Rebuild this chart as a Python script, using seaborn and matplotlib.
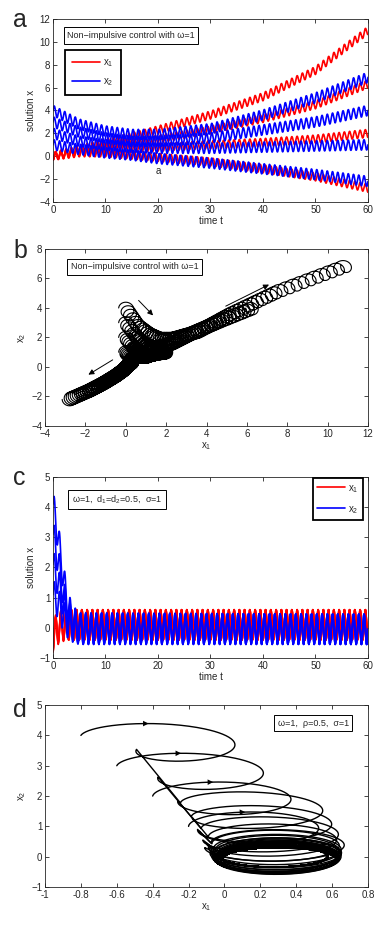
import numpy as np
import matplotlib
matplotlib.use("Agg")
import matplotlib.pyplot as plt
from matplotlib.lines import Line2D
import seaborn as sns

sns.set_style("ticks")
plt.rcParams["font.family"] = ["Liberation Sans", "DejaVu Sans"]
plt.rcParams["axes.linewidth"] = 0.6

# ---- panel a / b : non-impulsive control, omega = 1 ----
# centre of each trajectory at these times
t_key_a = [0, 5, 10, 15, 20, 30, 40, 50, 60]
a_x1_centres = [
    [0.0, 0.6, 1.2, 1.7, 2.3, 3.6, 5.2, 7.5, 11.0],
    [0.0, 0.5, 0.9, 1.2, 1.5, 2.3, 3.3, 4.5, 6.3],
    [0.0, 0.4, 0.6, 0.7, 0.8, 1.0, 1.2, 1.5, 2.0],
    [0.0, 0.3, 0.3, 0.1, -0.1, -0.5, -1.1, -1.8, -2.8],
]
a_x2_centres = [
    [4.0, 2.8, 2.2, 1.9, 1.9, 2.4, 3.6, 5.1, 6.9],
    [3.0, 2.1, 1.6, 1.3, 1.3, 1.6, 2.3, 3.0, 4.0],
    [2.0, 1.3, 1.0, 0.8, 0.7, 0.7, 0.8, 0.9, 1.0],
    [1.0, 0.6, 0.3, 0.1, -0.2, -0.6, -1.1, -1.6, -2.2],
]
a_amp_x1 = 0.35
a_amp_x2 = 0.45
period = 1.0

# ---- panel c : controlled, omega=1, d1=d2=0.5, sigma=1 ----
t_key_c = [0, 1, 2, 3, 4, 5, 60]
c_x1_centres = [
    [-0.3, 0.0, 0.1, 0.1, 0.1, 0.1, 0.1],
    [-0.2, 0.05, 0.1, 0.1, 0.1, 0.1, 0.1],
    [-0.25, 0.0, 0.08, 0.1, 0.1, 0.1, 0.1],
    [-0.3, -0.05, 0.05, 0.1, 0.1, 0.1, 0.1],
]
c_x2_centres = [
    [4.1, 3.0, 1.6, 0.6, 0.2, 0.0, -0.05],
    [3.1, 2.2, 1.1, 0.4, 0.1, -0.02, -0.05],
    [2.1, 1.5, 0.8, 0.3, 0.05, -0.05, -0.05],
    [1.1, 0.8, 0.4, 0.1, 0.0, -0.05, -0.05],
]
c_amp_x1 = 0.5
c_amp_x2 = 0.5

# ---- panel d : impulsive control, omega=1, rho=0.5, sigma=1 ----
rho = 0.5
d_start_x1 = [-0.8, -0.6, -0.4, -0.2]
d_start_x2 = [4.0, 3.0, 2.0, 1.0]
# loop centre at the end of the first loops (an impulse follows each loop)
d_end_x1 = [
    [-0.14, 0.20, 0.26, 0.28, 0.28],
    [-0.02, 0.24, 0.27, 0.29, 0.30],
    [0.09, 0.26, 0.28, 0.28, 0.27],
    [0.20, 0.27, 0.28, 0.29, 0.29],
]
d_end_x2 = [
    [3.54, 1.30, 0.45, 0.15, 0.00],
    [2.63, 0.85, 0.30, 0.05, -0.10],
    [1.85, 0.55, 0.20, 0.05, 0.00],
    [0.90, 0.30, 0.10, -0.05, -0.10],
]
d_r1 = [0.35, 0.38, 0.36, 0.35, 0.34]
d_r2 = [0.50, 0.48, 0.48, 0.50, 0.50]
# the limit cycle every trajectory settles on
d_lim_x1 = [0.28, 0.30, 0.27, 0.29]
d_lim_x2 = [-0.05, -0.15, 0.02, -0.10]
d_lim_r1 = [0.34, 0.32, 0.30, 0.33]
d_lim_r2 = [0.50, 0.40, 0.36, 0.45]
d_n_loops = 40

t = np.linspace(0, 60, 6001)
ph = 2 * np.pi * t / period


def style_axes(ax, xlim, ylim, xticks, yticks):
    ax.set_xlim(xlim)
    ax.set_ylim(ylim)
    ax.set_xticks(xticks)
    ax.set_yticks(yticks)
    ax.tick_params(direction="in", top=True, right=True, length=3, width=0.6,
                   labelsize=7, pad=2)
    for s in ax.spines.values():
        s.set_visible(True)
        s.set_linewidth(0.6)


def box_text(ax, x, y, txt, ha="left"):
    ax.text(x, y, txt, transform=ax.transAxes, fontsize=6.5, ha=ha, va="top",
            bbox=dict(boxstyle="square,pad=0.4", fc="white", ec="black", lw=0.7))


def legend_box(ax, **kw):
    handles = [Line2D([], [], color="red", lw=1.2), Line2D([], [], color="blue", lw=1.2)]
    labels = [r"$\mathregular{x_1}$", r"$\mathregular{x_2}$"]
    leg = ax.legend(handles, labels, borderaxespad=0, fontsize=7, fancybox=False,
                    framealpha=1, **kw)
    leg.get_frame().set_edgecolor("black")
    leg.get_frame().set_linewidth(1.3)


fig = plt.figure(figsize=(3.91, 9.27), dpi=100)
ax_a = fig.add_axes([0.1355, 0.7821, 0.8056, 0.1974])
ax_b = fig.add_axes([0.1151, 0.5405, 0.8261, 0.1909])
ax_c = fig.add_axes([0.1355, 0.2902, 0.8056, 0.1953])
ax_d = fig.add_axes([0.1151, 0.0431, 0.8261, 0.1963])

# trajectories of the non-impulsive system
traj_a = []
for c1, c2 in zip(a_x1_centres, a_x2_centres):
    x1 = np.interp(t, t_key_a, c1) - a_amp_x1 * np.cos(ph)
    x2 = np.interp(t, t_key_a, c2) + a_amp_x2 * np.sin(ph)
    traj_a.append((x1, x2))

# ---- a ----
for x1, _ in traj_a:
    sns.lineplot(x=t, y=x1, ax=ax_a, color="red", lw=1.2, estimator=None, sort=False)
for _, x2 in traj_a:
    sns.lineplot(x=t, y=x2, ax=ax_a, color="blue", lw=1.2, estimator=None, sort=False)
style_axes(ax_a, (0, 60), (-4, 12), range(0, 61, 10), range(-4, 13, 2))
ax_a.set_xlabel("time t", fontsize=7, labelpad=1)
ax_a.set_ylabel("solution x", fontsize=7, labelpad=2)
ax_a.text(20, -1.3, "a", fontsize=7, ha="center", va="center")
box_text(ax_a, 0.045, 0.935, "Non\u2212impulsive control with \u03c9=1")
legend_box(ax_a, loc="upper left", bbox_to_anchor=(0.038, 0.83), handlelength=2.9,
           labelspacing=0.7, borderpad=0.75, handletextpad=0.25)

# ---- b ----
for x1, x2 in traj_a:
    sns.lineplot(x=x1, y=x2, ax=ax_b, color="black", lw=0.8, estimator=None, sort=False)
style_axes(ax_b, (-4, 12), (-4, 8), range(-4, 13, 2), range(-4, 9, 2))
ax_b.set_xlabel(r"$\mathregular{x_1}$", fontsize=7, labelpad=1)
ax_b.set_ylabel(r"$\mathregular{x_2}$", fontsize=7, labelpad=2)
box_text(ax_b, 0.08, 0.925, "Non\u2212impulsive control with \u03c9=1")
arrow = dict(arrowstyle="-|>", color="black", lw=0.7, mutation_scale=8)
ax_b.annotate("", xy=(1.45, 3.36), xytext=(0.54, 4.65), arrowprops=arrow)
ax_b.annotate("", xy=(7.22, 5.67), xytext=(4.83, 4.04), arrowprops=arrow)
ax_b.annotate("", xy=(-1.97, -0.62), xytext=(-0.53, 0.58), arrowprops=arrow)

# ---- c ----
traj_c = []
for c1, c2 in zip(c_x1_centres, c_x2_centres):
    x1 = np.interp(t, t_key_c, c1) - c_amp_x1 * np.cos(ph)
    x2 = np.interp(t, t_key_c, c2) + c_amp_x2 * np.sin(ph)
    traj_c.append((x1, x2))
for x1, _ in traj_c:
    sns.lineplot(x=t, y=x1, ax=ax_c, color="red", lw=1.2, estimator=None, sort=False)
for _, x2 in traj_c:
    sns.lineplot(x=t, y=x2, ax=ax_c, color="blue", lw=1.2, estimator=None, sort=False)
style_axes(ax_c, (0, 60), (-1, 5), range(0, 61, 10), range(-1, 6, 1))
ax_c.set_xlabel("time t", fontsize=7, labelpad=1)
ax_c.set_ylabel("solution x", fontsize=7, labelpad=2)
box_text(ax_c, 0.06, 0.91,
         "\u03c9=1,  $\\mathregular{d_1}$=$\\mathregular{d_2}$=0.5,  \u03c3=1")
legend_box(ax_c, loc="upper right", bbox_to_anchor=(0.984, 0.995), handlelength=2.8,
           labelspacing=0.95, borderpad=0.5, handletextpad=0.3)

# ---- d ----
n_pts = 200
th = np.linspace(0, 2 * np.pi, n_pts)
s = th / (2 * np.pi)
for k in range(len(d_start_x1)):
    p1, p2 = d_start_x1[k], d_start_x2[k]
    xs, ys = [], []
    for j in range(d_n_loops):
        if j < len(d_r1):
            r1, r2 = d_r1[j], d_r2[j]
            e1, e2 = d_end_x1[k][j], d_end_x2[k][j]
        else:
            r1, r2 = d_lim_r1[k], d_lim_r2[k]
            e1, e2 = d_lim_x1[k], d_lim_x2[k]
        m1 = (p1 + r1) + (e1 - p1 - r1) * s
        m2 = p2 + (e2 - p2) * s
        lx = m1 - r1 * np.cos(th)
        ly = m2 + r2 * np.sin(th)
        xs.append(lx)
        ys.append(ly)
        # impulse at the end of every loop
        p1, p2 = rho * lx[-1], rho * ly[-1]
    xs = np.concatenate(xs)
    ys = np.concatenate(ys)
    sns.lineplot(x=xs, y=ys, ax=ax_d, color="black", lw=1.0, estimator=None, sort=False)
    i0 = int(0.22 * n_pts)
    ax_d.annotate("", xy=(xs[i0 + 3], ys[i0 + 3]), xytext=(xs[i0], ys[i0]),
                  arrowprops=dict(arrowstyle="-|>", color="black", lw=0,
                                  mutation_scale=10))
style_axes(ax_d, (-1, 0.8), (-1, 5), np.round(np.arange(-1, 0.81, 0.2), 1), range(-1, 6, 1))
ax_d.set_xticklabels(["-1", "-0.8", "-0.6", "-0.4", "-0.2", "0", "0.2", "0.4", "0.6", "0.8"])
ax_d.set_xlabel(r"$\mathregular{x_1}$", fontsize=7, labelpad=1)
ax_d.set_ylabel(r"$\mathregular{x_2}$", fontsize=7, labelpad=2)
box_text(ax_d, 0.72, 0.925, "\u03c9=1,  \u03c1=0.5,  \u03c3=1")

# panel letters
for letter, yb in zip("abcd", [0.9709, 0.7217, 0.4768, 0.2265]):
    fig.text(13 / 391, yb, letter, fontsize=18, va="baseline", ha="left")

fig.savefig("out.png", dpi=100)
